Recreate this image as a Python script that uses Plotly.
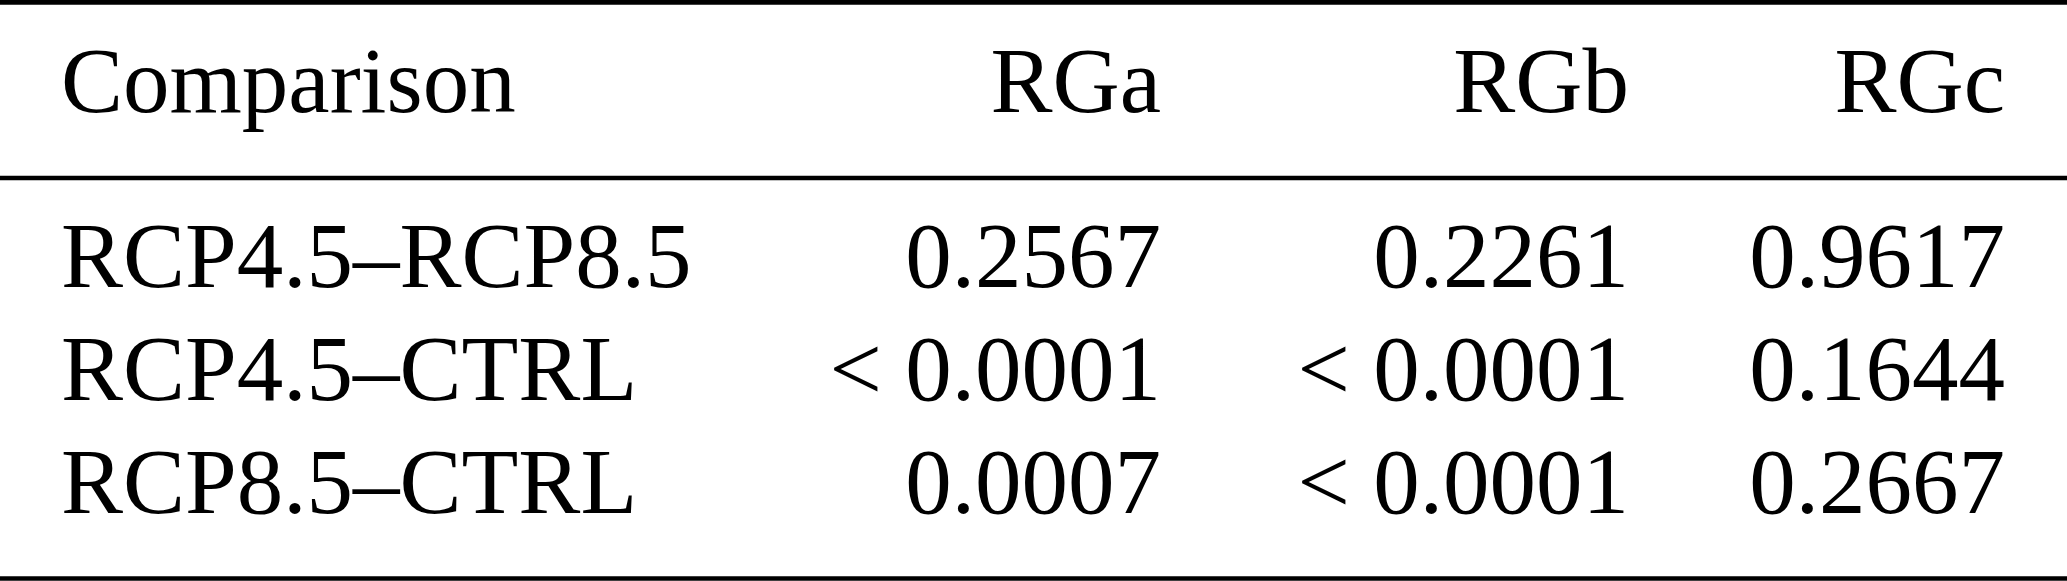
import plotly.graph_objects as go

# ---- data ----
header = ["Comparison", "RGa", "RGb", "RGc"]
comparisons = ["RCP4.5–RCP8.5", "RCP4.5–CTRL", "RCP8.5–CTRL"]
rga = ["0.2567", "< 0.0001", "0.0007"]
rgb = ["0.2261", "< 0.0001", "< 0.0001"]
rgc = ["0.9617", "0.1644", "0.2667"]

# ---- layout (pixel space) ----
W, H = 2067, 581
FONT = dict(family="Liberation Serif, Times New Roman, serif", size=93, color="black")
col_x = [61, 1161, 1629, 2005]          # left anchor for col 0, right anchors for others
baselines = [113, 288, 401, 514]       # header + rows
cap_shift = 0.26 * FONT["size"]
row_y = [b - cap_shift for b in baselines]
rule_y = [2.4, 178, 578.5]
rule_w = 4.6

columns = [
    [header[0]] + comparisons,
    [header[1]] + rga,
    [header[2]] + rgb,
    [header[3]] + rgc,
]

fig = go.Figure()
for i, col in enumerate(columns):
    fig.add_trace(go.Scatter(
        x=[col_x[i]] * len(col),
        y=row_y,
        text=col,
        mode="text",
        textposition="middle right" if i == 0 else "middle left",
        textfont=FONT,
        hoverinfo="skip",
        showlegend=False,
        cliponaxis=False,
    ))

for y in rule_y:
    fig.add_shape(type="line", xref="paper", yref="paper", x0=0, x1=1,
                  y0=1 - y / H, y1=1 - y / H,
                  line=dict(color="black", width=rule_w))

fig.update_layout(
    width=W, height=H,
    margin=dict(l=0, r=0, t=0, b=0),
    paper_bgcolor="white", plot_bgcolor="white",
    hovermode=False,
    xaxis=dict(range=[0, W], visible=False, fixedrange=True),
    yaxis=dict(range=[H, 0], visible=False, fixedrange=True),
)

fig.write_html("out.html",
               config={"displayModeBar": False, "staticPlot": True},
               post_script="document.body.style.margin='0';document.body.style.padding='0';")
